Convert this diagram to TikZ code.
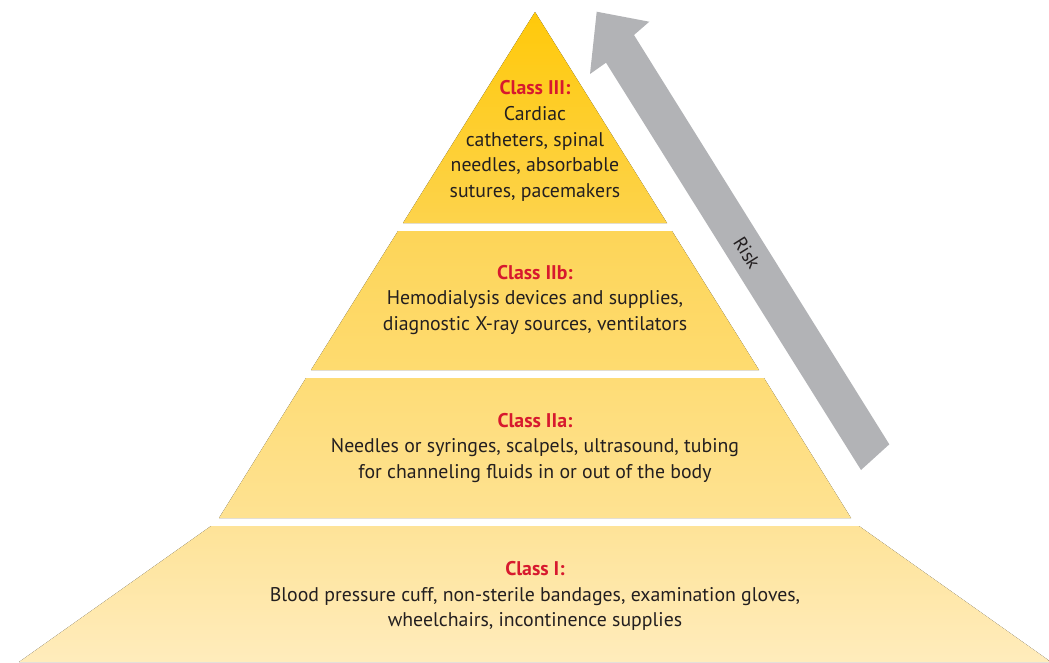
\documentclass[tikz,border=0pt]{standalone}
\usepackage{fontspec}
\setmainfont{PT Sans}
\definecolor{classred}{RGB}{215,25,46}
\definecolor{textdark}{RGB}{35,31,32}
\definecolor{riskgray}{RGB}{178,179,182}
\definecolor{g0}{RGB}{255,201,10}
\definecolor{g1}{RGB}{253,211,76}
\definecolor{g2}{RGB}{253,213,88}
\definecolor{g3}{RGB}{254,219,112}
\definecolor{g4}{RGB}{254,220,118}
\definecolor{g5}{RGB}{254,226,146}
\definecolor{g6}{RGB}{254,227,152}
\definecolor{g7}{RGB}{255,236,188}
\tikzset{
  tier/.style={draw=none},
  label/.style={font=\fontsize{19.8}{25.8}\selectfont, text=textdark, align=center, inner sep=0pt},
  head/.style={text=classred},
}
\begin{document}
\begin{tikzpicture}[x=1pt,y=-1pt]
\useasboundingbox (0,0) rectangle (1049,662);
% tiers
\fill[tier, top color=g0, bottom color=g1] (535,12) -- (667,223) -- (403,223) -- cycle;
\fill[tier, top color=g2, bottom color=g3] (398,231) -- (672,231) -- (759,370) -- (311,370) -- cycle;
\fill[tier, top color=g4, bottom color=g5] (306,378) -- (764,378) -- (851,518) -- (219,518) -- cycle;
\fill[tier, top color=g6, bottom color=g7] (211,526) -- (859,526) -- (1051,662) -- (19,662) -- cycle;
% risk arrow
\fill[riskgray] (596.7,11.7) -- (649.3,21.7) -- (634,35) -- (889.3,444.3) -- (861,470) -- (606,62.7) -- (590,74) -- cycle;
\node[label, font=\fontsize{19}{22}\selectfont, rotate=-58] (risk) at (747,253) {Risk};
% labels
\node[label] (c3) at (535,141) {{\bfseries\color{classred}Class III:}\\Cardiac\\catheters, spinal\\needles, absorbable\\sutures, pacemakers};
\node[label] (c2b) at (535,300) {{\bfseries\color{classred}Class IIb:}\\Hemodialysis devices and supplies,\\diagnostic X-ray sources, ventilators};
\node[label] (c2a) at (535,448) {{\bfseries\color{classred}Class IIa:}\\Needles or syringes, scalpels, ultrasound, tubing\\for channeling fluids in or out of the body};
\node[label] (c1) at (535,596) {{\bfseries\color{classred}Class I:}\\Blood pressure cuff, non-sterile bandages, examination gloves,\\wheelchairs, incontinence supplies};
\end{tikzpicture}
\end{document}
